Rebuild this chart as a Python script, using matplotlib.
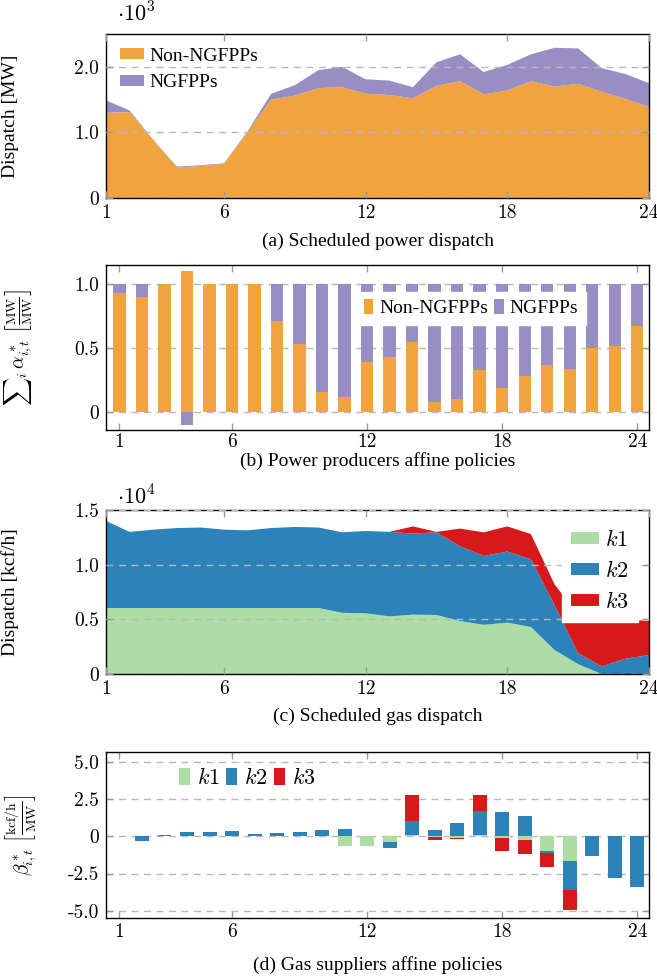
import numpy as np
import matplotlib.pyplot as plt

plt.rcParams['font.family'] = ['Liberation Serif', 'DejaVu Serif']
plt.rcParams['mathtext.fontset'] = 'cm'
plt.rcParams['font.size'] = 14

hours = np.arange(1, 25)
xticks = [1, 6, 12, 18, 24]

# (a) scheduled power dispatch [MW]
non_ngfpp = [1300, 1310, 890, 460, 490, 520, 1010, 1500, 1560, 1675, 1690, 1590,
             1570, 1520, 1710, 1780, 1580, 1640, 1780, 1700, 1740, 1620, 1510, 1390]
ngfpp = [190, 25, 0, 20, 10, 10, 10, 90, 160, 275, 310, 220,
         220, 170, 360, 410, 340, 390, 410, 590, 540, 360, 380, 360]

# (b) affine policies of power producers
alpha_non = [0.93, 0.90, 1.0, 1.10, 1.0, 1.0, 1.0, 0.71, 0.53, 0.16, 0.12, 0.39,
             0.43, 0.55, 0.08, 0.10, 0.33, 0.19, 0.28, 0.37, 0.34, 0.50, 0.52, 0.67]
alpha_ng = [0.07, 0.10, 0.0, -0.10, 0.0, 0.0, 0.0, 0.29, 0.47, 0.84, 0.88, 0.61,
            0.57, 0.45, 0.92, 0.90, 0.67, 0.81, 0.72, 0.63, 0.66, 0.50, 0.48, 0.33]

# (c) scheduled gas dispatch [kcf/h]
gas_k1 = [6040, 6040, 6040, 6040, 6040, 6040, 6040, 6040, 6040, 6040, 5600, 5550,
          5270, 5430, 5400, 4850, 4500, 4700, 4300, 2200, 900, 0, 0, 0]
gas_k2 = [7960, 6960, 7160, 7310, 7360, 7160, 7100, 7310, 7410, 7360, 7360, 7530,
          7730, 7410, 7560, 6830, 6300, 6500, 6200, 4100, 1000, 700, 1400, 1740]
gas_k3 = [0, 0, 0, 0, 0, 0, 0, 0, 0, 0, 0, 0,
          0, 660, 40, 1620, 2160, 2300, 2300, 1900, 3500, 4000, 3600, 3110]

# (d) affine policies of gas suppliers
beta_k1 = [0, 0, 0, 0, 0, 0, 0, 0, 0, 0, -0.65, -0.65,
           -0.40, 0.12, -0.03, -0.08, 0.08, -0.13, -0.27, -0.98, -1.63, 0, 0, 0]
beta_k2 = [0, -0.29, 0.09, 0.27, 0.29, 0.36, 0.18, 0.25, 0.29, 0.42, 0.51, 0.03,
           -0.36, 0.90, 0.45, 0.92, 1.65, 1.67, 1.41, -0.13, -2.0, -1.29, -2.81, -3.42]
beta_k3 = [0, 0, 0, 0, 0, 0, 0, 0, 0, 0, 0, 0,
           0, 1.75, -0.20, -0.10, 1.07, -0.83, -0.92, -0.94, -1.36, 0, 0, 0]

orange = '#f1a340'
purple = '#998ec3'
green = '#abdda4'
blue = '#2b83ba'
red = '#d7191c'
gridcol = '#b8b8b8'


def setup(ax, yticks, ylabels, xlim, ylim, ontop):
    ax.set_xlim(xlim)
    ax.set_ylim(ylim)
    ax.set_xticks(xticks, [str(t) for t in xticks], fontfamily='cmr10', fontsize=14)
    ax.set_yticks(yticks, ylabels, fontfamily='cmr10', fontsize=14)
    ax.tick_params(direction='in', top=True, right=True, length=5, width=1,
                   color='#9a9a9a', pad=5)
    ax.tick_params(axis='x', pad=4)
    ax.grid(axis='y', linestyle=(0, (5, 4)), color=gridcol, linewidth=1)
    ax.set_axisbelow(not ontop)
    for s in ax.spines.values():
        s.set_linewidth(1)


fig = plt.figure(figsize=(6.57, 9.77), dpi=100)
L, W = 0.1613, 0.8265
cx = 0.575

# ---- (a)
ax1 = fig.add_axes([L, 0.7973, W, 0.1679])
ax1.stackplot(hours, non_ngfpp, ngfpp, colors=[orange, purple],
              labels=['Non-NGFPPs', 'NGFPPs'])
setup(ax1, [0, 1000, 2000], ['0', '1.0', '2.0'], (1, 24), (0, 2500), True)
ax1.set_ylabel('Dispatch [MW]')
ax1.yaxis.set_label_coords(-0.16, 0.5)
ax1.legend(loc='upper left', frameon=False, handlelength=1.25, handleheight=0.45,
           handletextpad=0.3, labelspacing=0.5, borderaxespad=0.3, fontsize=14)
fig.text(0.178, 0.985, r'$\cdot 10^{3}$', fontsize=16, ha='left', va='center')
fig.text(cx, 0.7533, '(a) Scheduled power dispatch', ha='center', va='center', fontsize=14)

# ---- (b)
ax2 = fig.add_axes([L, 0.5598, W, 0.169])
bw = 0.55
ng_bottom = [a if n > 0 else 0 for a, n in zip(alpha_non, alpha_ng)]
ax2.bar(hours, alpha_non, bw, color=orange, label='Non-NGFPPs')
ax2.bar(hours, alpha_ng, bw, bottom=ng_bottom, color=purple, label='NGFPPs')
setup(ax2, [0, 0.5, 1.0], ['0', '0.5', '1.0'], (0.4, 24.52), (-0.14, 1.15), False)
ax2.tick_params(axis='x', pad=2)
ax2.set_ylabel(r'$\sum{}_i\,\alpha^*_{i,t}\ \left[\frac{\mathrm{MW}}{\mathrm{MW}}\right]$')
ax2.yaxis.set_label_coords(-0.13, 0.5)
ax2.legend(loc='center', bbox_to_anchor=(0.672, 0.737), ncol=2, frameon=True,
           fancybox=False, edgecolor='white', framealpha=1, handlelength=0.5,
           handleheight=0.8, handletextpad=0.3, columnspacing=0.3, fontsize=14)
fig.text(cx, 0.5285, '(b) Power producers affine policies', ha='center', va='center', fontsize=14)

# ---- (c)
ax3 = fig.add_axes([L, 0.3101, W, 0.1679])
ax3.stackplot(hours, gas_k1, gas_k2, gas_k3, colors=[green, blue, red],
              labels=[r'$k1$', r'$k2$', r'$k3$'])
setup(ax3, [0, 5000, 10000, 15000], ['0', '0.5', '1.0', '1.5'], (1, 24), (0, 15000), True)
ax3.set_ylabel('Dispatch [kcf/h]')
ax3.yaxis.set_label_coords(-0.16, 0.5)
ax3.legend(loc='upper right', frameon=True, fancybox=False, edgecolor='white',
           framealpha=1, handlelength=1.25, handleheight=0.45, handletextpad=0.3,
           labelspacing=0.45, borderaxespad=0.5, fontsize=16)
fig.text(0.178, 0.4913, r'$\cdot 10^{4}$', fontsize=16, ha='left', va='center')
fig.text(cx, 0.2671, '(c) Scheduled gas dispatch', ha='center', va='center', fontsize=14)

# ---- (d)
ax4 = fig.add_axes([L, 0.0604, W, 0.1699])
bw = 0.62
pos = np.zeros(24)
neg = np.zeros(24)
for vals, col, lab in [(beta_k1, green, r'$k1$'), (beta_k2, blue, r'$k2$'),
                       (beta_k3, red, r'$k3$')]:
    v = np.array(vals)
    bottom = np.where(v >= 0, pos, neg)
    ax4.bar(hours, v, bw, bottom=bottom, color=col, label=lab)
    pos = pos + np.clip(v, 0, None)
    neg = neg + np.clip(v, None, 0)
setup(ax4, [-5, -2.5, 0, 2.5, 5], ['-5.0', '-2.5', '0', '2.5', '5.0'],
      (0.4, 24.52), (-5.5, 5.7), False)
ax4.set_ylabel(r'$\beta^*_{i,t}\ \left[\frac{\mathrm{kcf/h}}{\mathrm{MW}}\right]$')
ax4.yaxis.set_label_coords(-0.125, 0.5)
ax4.legend(loc='center', bbox_to_anchor=(0.26, 0.84), ncol=3, frameon=False,
           handlelength=0.5, handleheight=0.8, handletextpad=0.3, columnspacing=0.3,
           fontsize=16)
fig.text(cx, 0.0123, '(d) Gas suppliers affine policies', ha='center', va='center', fontsize=14)

fig.savefig('out.png', dpi=100)
